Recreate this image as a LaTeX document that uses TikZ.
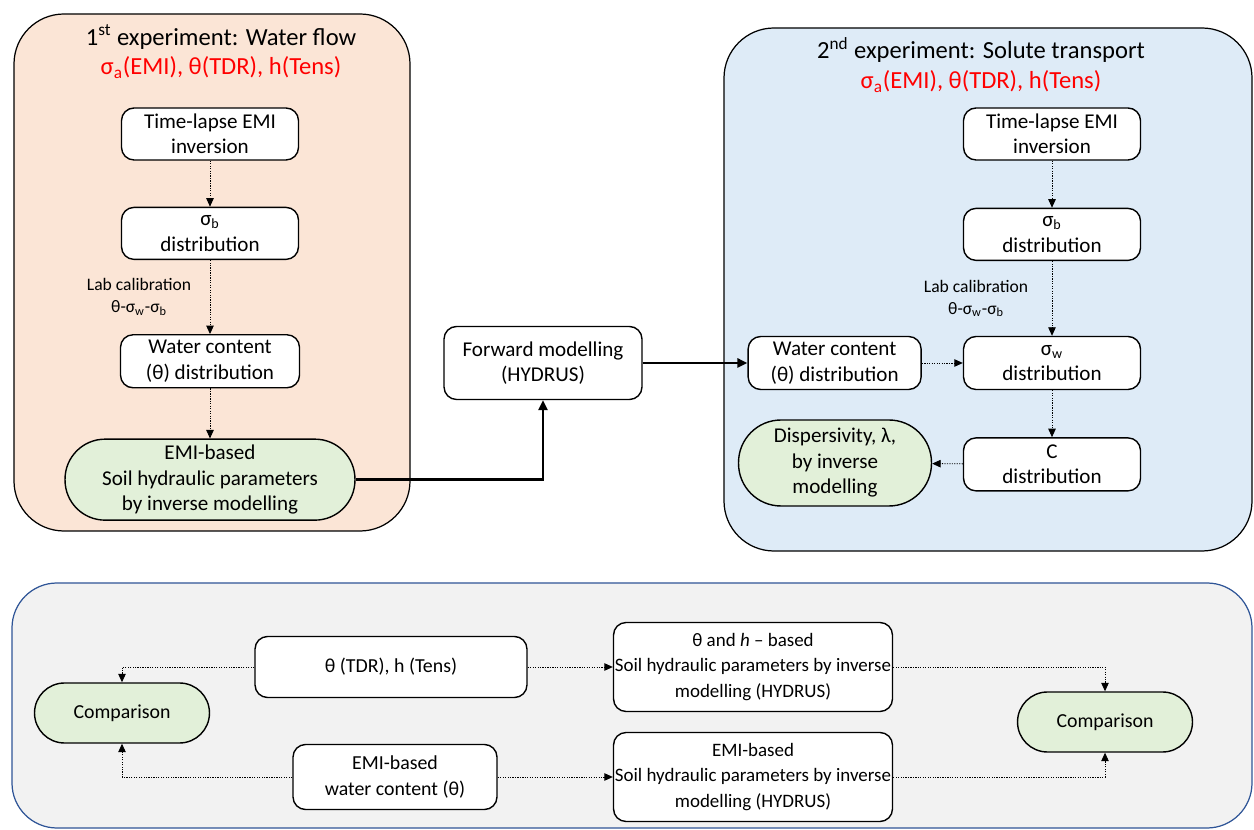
\documentclass[tikz,border=0pt]{standalone}
\usepackage{fontspec}
\setmainfont{Carlito}
\usetikzlibrary{arrows.meta, positioning}
\definecolor{peach}{HTML}{FBE5D6}
\definecolor{skyblue}{HTML}{DEEBF7}
\definecolor{leafgreen}{HTML}{E2F0D9}
\definecolor{paleground}{HTML}{F2F2F2}
\definecolor{navyline}{HTML}{2F5597}

\begin{document}
\begin{tikzpicture}[
    x=0.02cm, y=-0.02cm,
    panel/.style={draw, rounded corners=1cm, line width=0.7pt},
    title/.style={align=center, font=\fontsize{14}{17}\selectfont},
    stage/.style={draw, rounded corners=2.5mm, fill=white, align=center, line width=0.8pt,
        inner sep=0pt, minimum width=3.54cm, minimum height=1.04cm, font=\fontsize{12}{14.5}\selectfont},
    result/.style={stage, fill=leafgreen},
    lowertext/.style={font=\fontsize{11.3}{14.5}\selectfont},
    longtext/.style={font=\fontsize{10.8}{14.5}\selectfont},
    note/.style={align=center, font=\fontsize{10}{12.5}\selectfont},
    flow/.style={-{Triangle[length=1.7mm, width=1.5mm]}, line width=0.5pt, dash pattern=on 0.7pt off 0.7pt},
    link/.style={-{Triangle[length=2mm, width=1.8mm]}, line width=1.4pt}
]
    \useasboundingbox (0,0) rectangle (1254,830);

    % panels
    \draw[panel, fill=peach] (14,14) rectangle (410,531);
    \draw[panel, fill=skyblue] (724,28) rectangle (1252,551);
    \draw[panel, draw=navyline, fill=paleground, rounded corners=0.9cm] (12,583) rectangle (1252,828);

    % 1st experiment
    \node[title] (ttlL) at (221,52) {1\textsuperscript{st} experiment: Water flow\\
        \color{red}σ\textsubscript{a}(EMI), θ(TDR), h(Tens)};
    \node[stage] (emiL) at (210,134) {Time-lapse EMI\\inversion};
    \node[stage, below=0.92cm of emiL] (sbL) {σ\textsubscript{b}\\distribution};
    \node[stage, below=1.48cm of sbL, minimum width=3.58cm, minimum height=1.06cm] (wcL) {Water content\\(θ) distribution};
    \node[result, below=1.0cm of wcL, minimum width=5.8cm, minimum height=1.62cm, rounded corners=0.8cm] (shpL)
        {EMI-based\\Soil hydraulic parameters\\by inverse modelling};

    \draw[flow] (emiL) -- (sbL);
    \draw[flow] (sbL) -- node[note, left=0.25cm] {Lab calibration\\θ-σ\textsubscript{w}-σ\textsubscript{b}} (wcL);
    \draw[flow] (wcL) -- (shpL);

    % 2nd experiment
    \node[title] (ttlR) at (981,65) {2\textsuperscript{nd} experiment: Solute transport\\
        \color{red}σ\textsubscript{a}(EMI), θ(TDR), h(Tens)};
    \node[stage] (emiR) at (1052,134) {Time-lapse EMI\\inversion};
    \node[stage, below=0.94cm of emiR] (sbR) {σ\textsubscript{b}\\distribution};
    \node[stage, minimum height=1.06cm] (swR) at (1052,363) {σ\textsubscript{w}\\distribution};
    \node[stage, below=0.94cm of swR, minimum height=1.06cm] (cR) {C\\distribution};
    \node[stage, left=0.82cm of swR, minimum width=3.46cm, minimum height=1.06cm] (wcR) {Water content\\(θ) distribution};
    \node[result, minimum width=3.86cm, minimum height=1.72cm, rounded corners=0.85cm] (dispR) at (835,463)
        {Dispersivity, λ,\\by inverse\\modelling};

    \draw[flow] (emiR) -- (sbR);
    \draw[flow] (sbR) -- node[note, left=0.35cm] {Lab calibration\\θ-σ\textsubscript{w}-σ\textsubscript{b}} (swR);
    \draw[flow] (wcR) -- (swR);
    \draw[flow] (swR) -- (cR);
    \draw[flow] (cR) -- (dispR);

    % forward model
    \node[stage, minimum width=3.96cm, minimum height=1.46cm] (fwd) at (543,363) {Forward modelling\\(HYDRUS)};

    \draw[link] (shpL.east) -| (fwd.south);
    \draw[link] (fwd.east) -- (wcR.west);

    % comparison
    \node[stage, lowertext, minimum width=5.44cm, minimum height=1.22cm] (tdr) at (391,667) {θ (TDR), h (Tens)};
    \node[stage, lowertext, minimum width=4.08cm, minimum height=1.3cm] (emiw) at (395,777) {EMI-based\\water content (θ)};
    \node[stage, longtext, minimum width=5.58cm, minimum height=1.78cm] (invA) at (753,667)
        {θ and \textit{h} – based\\Soil hydraulic parameters by inverse\\modelling (HYDRUS)};
    \node[stage, longtext, minimum width=5.58cm, minimum height=1.78cm] (invB) at (753,777)
        {EMI-based\\Soil hydraulic parameters by inverse\\modelling (HYDRUS)};
    \node[result, lowertext, minimum width=3.5cm, minimum height=1.2cm, rounded corners=0.6cm] (cmpL) at (122,713) {Comparison};
    \node[result, lowertext, minimum width=3.5cm, minimum height=1.2cm, rounded corners=0.6cm] (cmpR) at (1105,722) {Comparison};

    \draw[flow] (tdr.west) -| (cmpL.north);
    \draw[flow] (emiw.west) -| (cmpL.south);
    \draw[flow] (tdr) -- (invA);
    \draw[flow] (emiw) -- (invB);
    \draw[flow] (invA.east) -| (cmpR.north);
    \draw[flow] (invB.east) -| (cmpR.south);
\end{tikzpicture}
\end{document}
